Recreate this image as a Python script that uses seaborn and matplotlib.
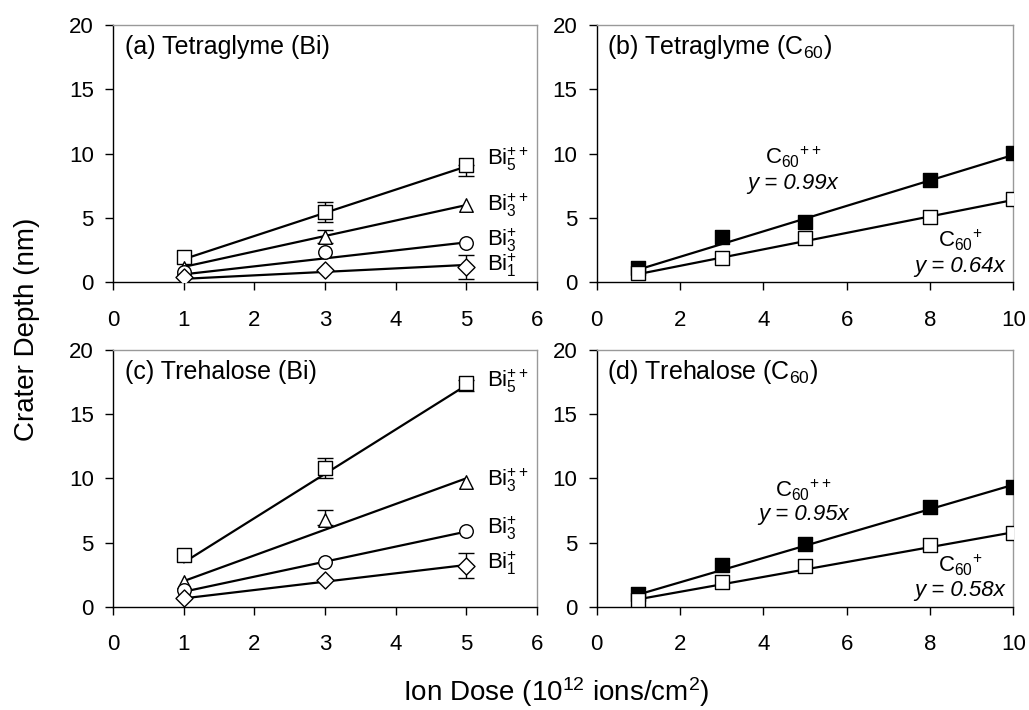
import numpy as np
import matplotlib
matplotlib.use("Agg")
import matplotlib.pyplot as plt
import seaborn as sns

sns.set_style("white")
plt.rcParams['font.family'] = ['Liberation Sans', 'DejaVu Sans']
plt.rcParams['mathtext.fontset'] = 'custom'
plt.rcParams['mathtext.rm'] = 'Liberation Sans'
plt.rcParams['mathtext.it'] = 'Liberation Sans:italic'
plt.rcParams['text.color'] = 'black'
plt.rcParams['axes.labelcolor'] = 'black'

# ---- data ----
bi_dose = [1, 3, 5]
bi_labels = [r"Bi$_5^{++}$", r"Bi$_3^{++}$", r"Bi$_3^{+}$", r"Bi$_1^{+}$"]
bi_markers = ['s', '^', 'o', 'D']

# (a) Tetraglyme, Bi
tg_bi_depth = [[1.98, 5.47, 9.09], [1.08, 3.49, 5.99], [0.82, 2.37, 3.07], [0.43, 0.95, 1.21]]
tg_bi_err_lo = [[0, 0.8, 0.85], [0, 0.4, 0], [0, 0, 0], [0, 0, 0.95]]
tg_bi_err_hi = [[0, 0.8, 0], [0, 0.56, 0], [0, 0, 0], [0, 0, 0.95]]
tg_bi_slope = [1.80, 1.20, 0.62, 0.27]
tg_bi_label_y = [9.6, 6.0, 3.3, 1.35]

# (c) Trehalose, Bi
tr_bi_depth = [[4.0, 10.8, 17.4], [1.9, 6.77, 9.7], [1.3, 3.47, 5.92], [0.67, 2.08, 3.2]]
tr_bi_err_lo = [[0, 0.77, 0.6], [0, 0.4, 0], [0, 0, 0], [0, 0, 0.95]]
tr_bi_err_hi = [[0, 0.77, 0.3], [0, 0.75, 0], [0, 0, 0], [0, 0, 0.95]]
tr_bi_slope = [3.45, 2.0, 1.17, 0.65]
tr_bi_label_y = [17.6, 9.85, 6.1, 3.4]

c60_dose = [1, 3, 5, 8, 10]
# (b) Tetraglyme, C60
tg_c60_pp = [1.08, 3.54, 4.7, 7.93, 10.05]
tg_c60_p = [0.7, 1.91, 3.46, 5.04, 6.51]
tg_c60_slopes = [0.99, 0.64]
# (d) Trehalose, C60
tr_c60_pp = [0.97, 3.27, 4.9, 7.8, 9.35]
tr_c60_p = [0.52, 1.96, 3.14, 4.79, 5.76]
tr_c60_slopes = [0.95, 0.58]

fig = plt.figure(figsize=(10.29, 7.10), dpi=100)
ax_a = fig.add_axes([0.1101, 0.6024, 0.4115, 0.3624])
ax_b = fig.add_axes([0.5799, 0.6024, 0.4049, 0.3624])
ax_c = fig.add_axes([0.1101, 0.1455, 0.4115, 0.3615])
ax_d = fig.add_axes([0.5799, 0.1455, 0.4049, 0.3615])


def style_axes(ax, xmax, xstep):
    ax.set_xlim(0, xmax)
    ax.set_ylim(0, 20)
    ax.set_xticks(np.arange(0, xmax + 0.1, xstep))
    ax.set_yticks([0, 5, 10, 15, 20])
    for s in ['left', 'bottom']:
        ax.spines[s].set_color('black')
        ax.spines[s].set_linewidth(1.0)
    for s in ['top', 'right']:
        ax.spines[s].set_color('#999999')
        ax.spines[s].set_linewidth(1.0)
    ax.tick_params(axis='both', direction='out', length=6, width=1,
                   colors='black', labelsize=16)
    ax.tick_params(axis='x', pad=14, bottom=True)
    ax.tick_params(axis='y', pad=8, left=True)
    ax.set_xlabel('')
    ax.set_ylabel('')


def draw_bi(ax, depth, err_lo, err_hi, slopes, label_y, title):
    xs = np.array(bi_dose, dtype=float)
    for i in range(len(depth)):
        sns.lineplot(x=xs, y=slopes[i] * xs, ax=ax, color='black', lw=1.6, zorder=2)
        lo = np.array(err_lo[i]); hi = np.array(err_hi[i])
        m = (lo > 0) | (hi > 0)
        if m.any():
            ax.errorbar(xs[m], np.array(depth[i])[m], yerr=[lo[m], hi[m]], fmt='none',
                        ecolor='black', elinewidth=1, capsize=6, capthick=1, zorder=3)
        msize = 95 if bi_markers[i] != 'D' else 75
        sns.scatterplot(x=xs, y=depth[i], ax=ax, marker=bi_markers[i], s=msize,
                        facecolor='white', edgecolor='black', linewidth=1, zorder=4)
        ax.text(5.3, label_y[i], bi_labels[i], fontsize=16, ha='left', va='center')
    style_axes(ax, 6, 1)
    ax.text(0.028, 0.915, title, transform=ax.transAxes, fontsize=18, ha='left', va='center')


def draw_c60(ax, pp, p, slopes, pos, title):
    xs = np.array(c60_dose, dtype=float)
    for vals, slope, fc in [(pp, slopes[0], 'black'), (p, slopes[1], 'white')]:
        sns.lineplot(x=xs, y=slope * xs, ax=ax, color='black', lw=1.6, zorder=2)
        sns.scatterplot(x=xs, y=vals, ax=ax, marker='s', s=95,
                        facecolor=fc, edgecolor='black', linewidth=1, zorder=4)
    (x1, y1, y1e), (x2, y2, y2e) = pos
    ax.text(x1, y1, r"C$_{60}{}^{++}$", fontsize=16, ha='center', va='center')
    ax.text(x1, y1e, f"y = {slopes[0]:.2f}x", fontsize=16, style='italic', ha='center', va='center')
    ax.text(x2, y2, r"C$_{60}{}^{+}$", fontsize=16, ha='center', va='center')
    ax.text(x2, y2e, f"y = {slopes[1]:.2f}x", fontsize=16, style='italic', ha='center', va='center')
    style_axes(ax, 10, 2)
    ax.text(0.024, 0.915, title, transform=ax.transAxes, fontsize=18, ha='left', va='center')


draw_bi(ax_a, tg_bi_depth, tg_bi_err_lo, tg_bi_err_hi, tg_bi_slope, tg_bi_label_y,
        "(a) Tetraglyme (Bi)")
draw_bi(ax_c, tr_bi_depth, tr_bi_err_lo, tr_bi_err_hi, tr_bi_slope, tr_bi_label_y,
        "(c) Trehalose (Bi)")
draw_c60(ax_b, tg_c60_pp, tg_c60_p, tg_c60_slopes,
         [(4.71, 9.73, 7.67), (8.72, 3.28, 1.21)], r"(b) Tetraglyme (C$_{60}$)")
draw_c60(ax_d, tr_c60_pp, tr_c60_p, tr_c60_slopes,
         [(4.96, 9.05, 7.2), (8.72, 3.2, 1.23)], r"(d) Trehalose (C$_{60}$)")

fig.text(0.026, 1 - 329 / 710, "Crater Depth (nm)", rotation=90, fontsize=20,
         ha='center', va='center')
fig.text(556 / 1029, 1 - 692 / 710, r"Ion Dose (10$^{12}$ ions/cm$^{2}$)", fontsize=20,
         ha='center', va='center')

fig.savefig("out.png", dpi=100)
